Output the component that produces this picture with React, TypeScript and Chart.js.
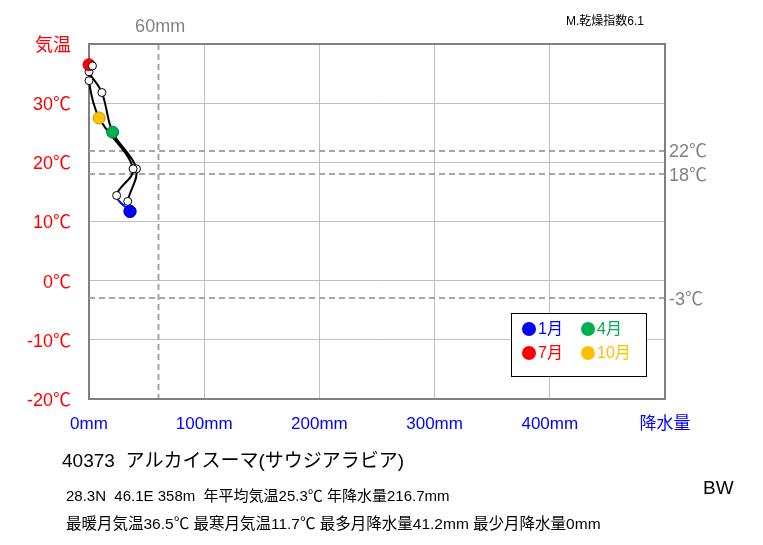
import React, { useEffect, useRef } from 'react';
import { Chart, registerables } from 'chart.js';

Chart.register(...registerables);

const months = ['1月', '2月', '3月', '4月', '5月', '6月', '7月', '8月', '9月', '10月', '11月', '12月'];
const precipitation = [35.6, 33.6, 41.2, 20.5, 11.2, 0, 0, 3.0, 0, 8.8, 38.3, 24.0];
const temperature = [11.7, 13.4, 18.9, 25.1, 31.8, 35.3, 36.5, 36.3, 33.8, 27.5, 18.9, 14.4];
const highlightIndex = [0, 3, 6, 9];
const highlightFill = ['#0000ff', '#00b050', '#ff0000', '#ffc000'];
const highlightBorder = ['#0000cc', '#00803a', '#c00000', '#c89600'];
const refTemps = [22, 18, -3];
const refTempLabels = ['22℃', '18℃', '-3℃'];
const refPrecip = 60;
const refPrecipLabel = '60mm';
const stationLine = '40373  アルカイスーマ(サウジアラビア)';
const infoLine1 = '28.3N  46.1E 358m  年平均気温25.3℃ 年降水量216.7mm';
const infoLine2 = '最暖月気温36.5℃ 最寒月気温11.7℃ 最多月降水量41.2mm 最少月降水量0mm';
const climateCode = 'BW';
const aridityLabel = 'M.乾燥指数6.1';

const FONT = '"Liberation Sans", "Noto Sans CJK JP", sans-serif';

const overlayPlugin = {
  id: 'climoOverlay',
  beforeDatasetsDraw(chart: any) {
    const { ctx, chartArea, scales } = chart;
    const x = scales.x, y = scales.y;
    ctx.save();
    ctx.strokeStyle = '#a6a6a6';
    ctx.lineWidth = 2;
    ctx.setLineDash([6, 4]);
    const px = Math.round(x.getPixelForValue(refPrecip)) + 0.5;
    ctx.beginPath();
    ctx.moveTo(px, chartArea.top);
    ctx.lineTo(px, chartArea.bottom);
    ctx.stroke();
    refTemps.forEach((t) => {
      const py = Math.round(y.getPixelForValue(t));
      ctx.beginPath();
      ctx.moveTo(chartArea.left, py);
      ctx.lineTo(chartArea.right, py);
      ctx.stroke();
    });
    ctx.restore();
  },
  afterDatasetsDraw(chart: any) {
    const { ctx, chartArea } = chart;
    ctx.save();
    ctx.strokeStyle = '#808080';
    ctx.lineWidth = 2;
    ctx.setLineDash([]);
    ctx.beginPath();
    ctx.moveTo(chartArea.left, chartArea.top);
    ctx.lineTo(chartArea.right, chartArea.top);
    ctx.lineTo(chartArea.right, chartArea.bottom);
    ctx.lineTo(chartArea.left, chartArea.bottom);
    ctx.stroke();
    ctx.restore();
  },
  afterDraw(chart: any) {
    const { ctx, chartArea, scales } = chart;
    const x = scales.x, y = scales.y;
    ctx.save();
    // reference labels
    ctx.fillStyle = '#808080';
    ctx.font = `18px ${FONT}`;
    ctx.textBaseline = 'middle';
    ctx.textAlign = 'center';
    ctx.fillText(refPrecipLabel, x.getPixelForValue(refPrecip) + 2, 27);
    ctx.textAlign = 'left';
    refTemps.forEach((t, i) => {
      ctx.fillText(refTempLabels[i], chartArea.right + 4, y.getPixelForValue(t) + 2);
    });

    // legend
    const lx = 511, ly = 313, lw = 135, lh = 63;
    ctx.fillStyle = '#ffffff';
    ctx.fillRect(lx, ly, lw, lh);
    ctx.strokeStyle = '#000000';
    ctx.lineWidth = 1;
    ctx.strokeRect(lx + 0.5, ly + 0.5, lw, lh);
    ctx.font = `16px ${FONT}`;
    ctx.textAlign = 'left';
    highlightIndex.forEach((mi, i) => {
      const col = i % 2;
      const r = i < 2 ? 0 : 1;
      const cx = lx + 18 + col * 59;
      const cy = ly + 16 + r * 24;
      ctx.fillStyle = highlightFill[i];
      ctx.beginPath();
      ctx.arc(cx, cy, 7, 0, Math.PI * 2);
      ctx.fill();
      ctx.fillText(months[mi], cx + 9, cy + 1);
    });

    // info texts
    ctx.fillStyle = '#000000';
    ctx.textAlign = 'left';
    ctx.font = `19px ${FONT}`;
    ctx.fillText(stationLine, 62, 462);
    ctx.font = `15px ${FONT}`;
    ctx.fillText(infoLine1, 66, 497);
    ctx.font = `15.5px ${FONT}`;
    ctx.fillText(infoLine2, 66, 525);
    ctx.font = `19px ${FONT}`;
    ctx.fillText(climateCode, 703, 489);
    ctx.font = `12px ${FONT}`;
    ctx.fillText(aridityLabel, 566, 22);
    ctx.restore();
  },
};

export default function App() {
  const ref = useRef<HTMLCanvasElement | null>(null);
  useEffect(() => {
    if (!ref.current) return;
    const loop = [...months.keys(), 0];
    const data = loop.map((i) => ({ x: precipitation[i], y: temperature[i] }));
    const isHi = (i: number) => highlightIndex.indexOf(loop[i]) >= 0;
    const hiPos = (i: number) => highlightIndex.indexOf(loop[i]);
    const chart = new Chart(ref.current, {
      type: 'scatter',
      data: {
        datasets: [
          {
            data,
            showLine: true,
            clip: false,
            tension: 0.35,
            borderColor: '#000000',
            borderWidth: 2,
            segment: {
              borderColor: (c: any) => (c.p1DataIndex === loop.length - 1 ? '#0000ff' : '#000000'),
            },
            pointRadius: data.map((_, i) => (isHi(i) ? 6 : 4)),
            pointBackgroundColor: data.map((_, i) => (isHi(i) ? highlightFill[hiPos(i)] : '#ffffff')),
            pointBorderColor: data.map((_, i) => (isHi(i) ? highlightBorder[hiPos(i)] : '#000000')),
            pointBorderWidth: 1,
          } as any,
        ],
      },
      options: {
        responsive: false,
        animation: false,
        layout: { padding: { left: 0, right: 98, top: 44, bottom: 0 } },
        plugins: { legend: { display: false }, tooltip: { enabled: false } },
        scales: {
          x: {
            type: 'linear',
            min: 0,
            max: 500,
            ticks: {
              stepSize: 100,
              color: '#0000ff',
              padding: 15,
              font: { size: 17, family: FONT },
              callback: (v: any) => (v === 500 ? '降水量' : `${v}mm`),
            },
            grid: { color: '#c0c0c0', lineWidth: 1, drawTicks: false },
            border: { display: true, color: '#808080', width: 2 },
            afterFit: (s: any) => { s.height = 146; },
          },
          y: {
            type: 'linear',
            min: -20,
            max: 40,
            ticks: {
              stepSize: 10,
              color: '#ff0000',
              padding: 18,
              labelOffset: 2,
              font: { size: 18, family: FONT },
              callback: (v: any) => (v === 40 ? '気温' : `${v}℃`),
            },
            grid: { color: '#c0c0c0', lineWidth: 1, drawTicks: false },
            border: { display: true, color: '#808080', width: 2 },
            afterFit: (s: any) => { s.width = 89; },
          },
        },
      },
      plugins: [overlayPlugin],
    });
    return () => chart.destroy();
  }, []);
  return (
    <div style={{ position: 'absolute', left: 0, top: 0, width: 763, height: 545, background: '#fff' }}>
      <canvas ref={ref} width={763} height={545} style={{ width: 763, height: 545, display: 'block' }} />
    </div>
  );
}
